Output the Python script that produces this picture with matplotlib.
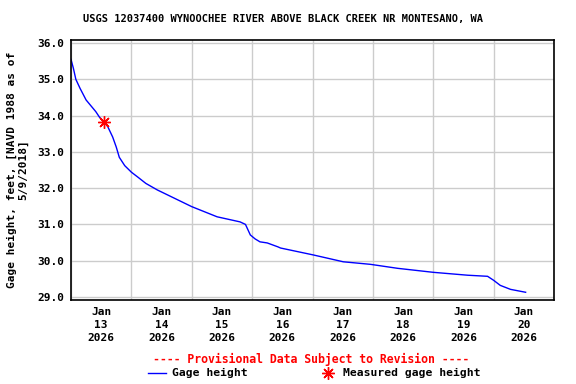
import matplotlib
matplotlib.use("Agg")
import matplotlib.pyplot as plt
import matplotlib.dates as mdates
import numpy as np
import pandas as pd
from matplotlib.lines import Line2D

# gage height readings (days after Jan 13 2026 00:00, feet)
day_offsets = [0.00, 0.04, 0.08, 0.15, 0.25, 0.41, 0.47, 0.55, 0.61, 0.69,
               0.75, 0.80, 0.89, 1.00, 1.11, 1.24, 1.43, 2.00, 2.42, 2.80,
               2.89, 2.97, 3.05, 3.13, 3.25, 3.43, 3.47, 4.01, 4.51, 4.96,
               5.41, 6.00, 6.57, 6.90, 7.00, 7.11, 7.28, 7.53]
gage_ft = [35.55, 35.30, 35.00, 34.75, 34.43, 34.11, 33.96, 33.82, 33.69, 33.41,
           33.13, 32.85, 32.62, 32.44, 32.30, 32.13, 31.95, 31.49, 31.21, 31.07,
           31.00, 30.71, 30.60, 30.52, 30.49, 30.38, 30.35, 30.16, 29.97, 29.90,
           29.79, 29.68, 29.60, 29.57, 29.46, 29.32, 29.21, 29.13]
meas_day = [0.55]
meas_ft = [33.81]

t0 = pd.Timestamp("2026-01-13 00:00")
times = [t0 + pd.Timedelta(days=d) for d in day_offsets]
meas_times = [t0 + pd.Timedelta(days=d) for d in meas_day]

FONT = "DejaVu Sans Mono"
plt.rcParams["font.family"] = FONT
plt.rcParams["font.weight"] = "bold"

STAR = (8, 2, 0)  # 8-spoke asterisk

fig = plt.figure(figsize=(5.76, 3.84), dpi=100)
ax = fig.add_axes([71 / 576, 84 / 384, 483 / 576, 260 / 384])

ax.plot(times, gage_ft, color="#0000ff", lw=1.0)
ax.plot(meas_times, meas_ft, marker=STAR, color="red", ms=9, mew=1.0, ls="none")

ax.set_xlim(t0, t0 + pd.Timedelta(days=8))
ax.set_ylim(28.917, 36.083)
ax.set_yticks(np.arange(29, 36.5, 1.0))
ax.set_yticklabels(["%.1f" % v for v in np.arange(29, 36.5, 1.0)], fontsize=8, fontweight="bold")

ax.xaxis.set_major_locator(mdates.DayLocator())
ax.xaxis.set_major_formatter(plt.NullFormatter())
ax.xaxis.set_minor_locator(mdates.HourLocator(byhour=[12]))
ax.xaxis.set_minor_formatter(mdates.DateFormatter("%b\n%d\n%Y"))
for lab in ax.xaxis.get_minorticklabels():
    lab.set_fontsize(8)
    lab.set_fontweight("bold")
    lab.set_linespacing(1.35)

ax.tick_params(axis="both", which="both", length=0, pad=5)
ax.grid(True, which="major", color="#cccccc", lw=1.0)
ax.set_axisbelow(True)
for s in ax.spines.values():
    s.set_color("black")
    s.set_linewidth(1.2)

ax.set_ylabel("Gage height, feet, [NAVD 1988 as of\n5/9/2018]", fontsize=8,
              fontweight="bold", linespacing=1.25, labelpad=6)

fig.text(283 / 576, 0.95, "USGS 12037400 WYNOOCHEE RIVER ABOVE BLACK CREEK NR MONTESANO, WA",
         ha="center", va="center", fontsize=7.5, fontweight="bold")
fig.text(311 / 576, 1 - 359 / 384, "---- Provisional Data Subject to Revision ----",
         ha="center", va="center", fontsize=8.3, fontweight="bold", color="red")

fig.add_artist(Line2D([148 / 576, 166 / 576], [1 - 373 / 384] * 2, color="#0000ff", lw=1.0))
fig.text(172 / 576, 1 - 373 / 384, "Gage height", ha="left", va="center", fontsize=8.2, fontweight="bold")
fig.add_artist(Line2D([328 / 576], [1 - 373 / 384], marker=STAR, color="red", ms=9, mew=1.0))
fig.text(343 / 576, 1 - 373 / 384, "Measured gage height", ha="left", va="center", fontsize=8.2, fontweight="bold")

fig.savefig("out.png", dpi=100)
